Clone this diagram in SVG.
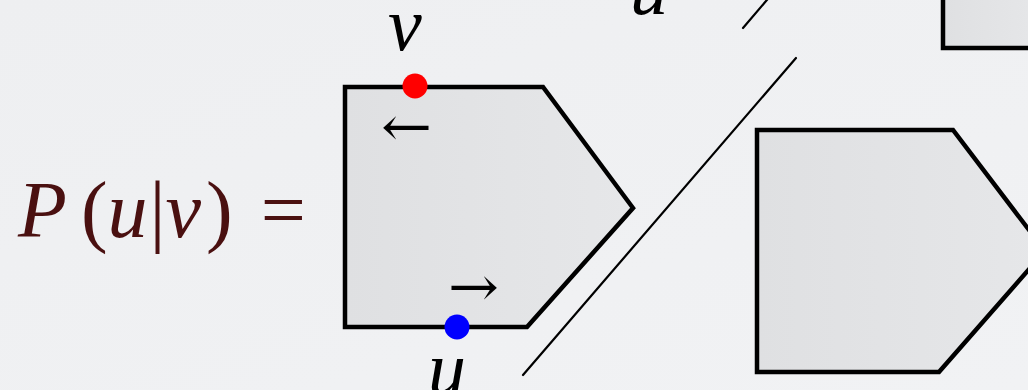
<svg xmlns="http://www.w3.org/2000/svg" width="1028" height="390" viewBox="0 0 1028 390">
<defs>
<linearGradient id="bg" x1="0" y1="0" x2="1" y2="1"><stop offset="0" stop-color="#eeeff1"/><stop offset="1" stop-color="#f1f2f4"/></linearGradient>
<linearGradient id="fill" x1="0" y1="0" x2="1" y2="0"><stop offset="0" stop-color="#dfe0e2"/><stop offset="1" stop-color="#e6e7e9"/></linearGradient>
<style>
.shape{fill:url(#fill);stroke:#000;stroke-width:4.5;stroke-linejoin:miter}
.line{stroke:#000;stroke-width:2.2;fill:none;stroke-linecap:round}
</style>
</defs>
<rect width="1028" height="390" fill="url(#bg)"/>
<g id="formula">
<text font-family="'Liberation Serif', serif" font-size="80" fill="#4a1010" x="18" y="237"><tspan font-style="italic">P</tspan><tspan dx="14">(</tspan><tspan font-style="italic">u</tspan><tspan dx="2">|</tspan><tspan font-style="italic">v</tspan><tspan dx="5">)</tspan><tspan dx="8"> =</tspan></text>
</g>
<g id="connectors">
<line class="line" x1="523" y1="375" x2="796" y2="58"/>
<line class="line" x1="743" y1="28" x2="772" y2="-6"/>
</g>
<g id="node-left">
<polygon class="shape" points="345,87 543,87 633,208 527,327 345,327"/>
<text font-family="'DejaVu Serif', serif" font-size="56" x="381" y="146" textLength="51" lengthAdjust="spacingAndGlyphs">←</text>
<text font-family="'DejaVu Serif', serif" font-size="56" x="448" y="306" textLength="51" lengthAdjust="spacingAndGlyphs">→</text>
<circle cx="415" cy="86" r="12.5" fill="#ff0000"/>
<circle cx="457" cy="327" r="12.5" fill="#0000ff"/>
</g>
<g id="label-v"><text font-family="'Liberation Serif', serif" font-style="italic" font-size="76" x="388" y="50">v</text></g>
<g id="label-u-bottom"><text font-family="'Liberation Serif', serif" font-style="italic" font-size="76" x="428" y="394">u</text></g>
<g id="label-u-top"><text font-family="'Liberation Serif', serif" font-style="italic" font-size="76" x="630" y="14">u</text></g>
<g id="node-right">
<polygon class="shape" points="757,130 953,130 1045,251 939,372 757,372"/>
</g>
<g id="node-topright">
<rect class="shape" x="943" y="-10" width="100" height="58"/>
</g>
</svg>
